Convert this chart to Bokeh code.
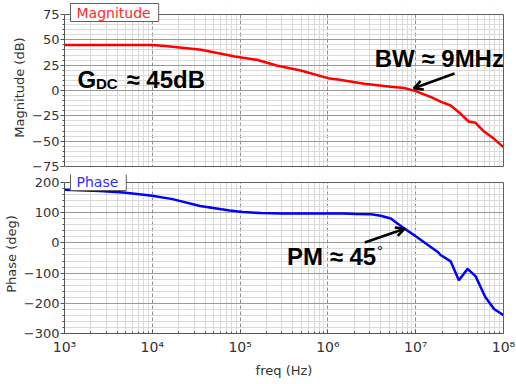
from bokeh.plotting import figure
from bokeh.layouts import column
from bokeh.models import (FixedTicker, Label, Arrow, OpenHead, Range1d, Span,
                          BoxAnnotation, LinearAxis)
from bokeh.embed import file_html
from bokeh.resources import INLINE

# Open-loop response samples
freq_mag = [1.0e3, 3.4e3, 1.0e4, 1.4e4, 3.6e4, 8.7e4, 1.55e5, 2.6e5, 4.9e5,
            1.0e6, 1.3e6, 2.6e6, 5.2e6, 7.4e6, 1.0e7, 1.5e7, 1.92e7, 2.5e7,
            3.25e7, 4.0e7, 4.8e7, 6.0e7, 7.8e7, 1.0e8]
mag_db = [45.0, 45.0, 45.0, 44.0, 40.2, 33.6, 30.3, 24.7, 19.7,
          12.2, 10.9, 6.6, 3.7, 2.4, -0.6, -6.5, -10.9, -14.8,
          -23.0, -30.6, -31.9, -40.5, -47.7, -55.9]

freq_ph = [1.0e3, 2.5e3, 4.7e3, 1.0e4, 1.7e4, 3.5e4, 7.6e4, 1.07e5, 1.74e5,
           3.0e5, 1.0e6, 1.5e6, 2.1e6, 3.1e6, 4.0e6, 5.2e6, 6.2e6, 7.4e6, 1.0e7,
           1.8e7, 1.92e7, 2.5e7, 3.1e7, 3.9e7, 4.8e7, 6.2e7, 7.8e7, 1.0e8]
phase_deg = [176, 172, 167, 156, 145, 122, 107, 102, 99,
             97, 97, 97, 96, 95, 90, 81, 64, 48, 22,
             -31, -40, -61, -124, -86, -110, -179, -219, -239]

x_ticks = [1000, 10000, 100000, 1000000, 10000000, 100000000]
x_tick_labels = ["10³", "10⁴", "10⁵", "10⁶", "10⁷", "10⁸"]
mag_ticks = [-75, -50, -25, 0, 25, 50, 75]
mag_tick_labels = ["−75", "−50", "−25", "0", "25", "50", "75"]
ph_ticks = [-300, -200, -100, 0, 100, 200]
ph_tick_labels = ["−300", "−200", "−100", "0", "100", "200"]

x_minor = [m * 10 ** e for e in range(3, 8) for m in range(2, 10)]
mag_minor = list(range(-75, 76, 5))
ph_minor = list(range(-300, 201, 20))

FONT = "DejaVu Sans"
BOLD = "Liberation Sans"
TXT = "#333333"
EDGE = "#606060"

# panel geometry (pixels): each plotting box sits inside a slightly taller
# frame so that the tab labels can overlap its top edge
TOP_H, BOT_H = 174, 210
MAG_PX = 152 / 150          # px per dB
PH_PX = 151 / 500           # px per degree
mag_view = Range1d(75 - (TOP_H - 14) / MAG_PX, 75 + 14 / MAG_PX)
ph_view = Range1d(-300, 200 + 8 / PH_PX)

x_range = Range1d(1e3, 1e8)


def make_panel(height, y_range, bottom, x_loc, y_ticks, y_labels, y_minor, y_title):
    lo, hi = y_ticks[0], y_ticks[-1]
    p = figure(width=516, height=height, x_axis_type="log", x_range=x_range,
               y_range=y_range, x_axis_location=x_loc, output_backend="svg",
               toolbar_location=None, min_border_left=63, min_border_right=13,
               min_border_top=0, min_border_bottom=bottom)
    p.outline_line_color = None

    xt = FixedTicker(ticks=x_ticks, minor_ticks=x_minor)
    yt = FixedTicker(ticks=y_ticks, minor_ticks=y_minor)

    g = p.xgrid[0]
    g.ticker = xt
    g.grid_line_color = "#8e8e8e"
    g.grid_line_dash = "4 2"
    g.minor_grid_line_color = "#dadada"

    yax = p.yaxis[0]
    yax.ticker = yt
    yax.bounds = (lo, hi)
    yax.major_label_overrides = dict(zip(y_ticks, y_labels))
    yax.axis_label = y_title
    yax.axis_label_text_font = FONT
    yax.axis_label_text_font_style = "normal"
    yax.axis_label_text_font_size = "13px"
    yax.axis_label_text_color = TXT
    yax.axis_label_standoff = 2
    yax.major_label_text_font = FONT
    yax.major_label_text_font_size = "13px"
    yax.major_label_text_color = TXT
    yax.major_label_standoff = 1
    yax.major_tick_out = 4
    yax.major_tick_in = 0
    yax.minor_tick_out = 2
    yax.minor_tick_in = 0
    yax.axis_line_color = "#555555"
    yax.major_tick_line_color = "#555555"
    yax.minor_tick_line_color = "#555555"

    gy = p.ygrid[0]
    gy.ticker = yt
    gy.grid_line_color = "#9a9a9a"
    gy.minor_grid_line_color = "#dadada"

    # right edge of the plotting box
    p.add_layout(LinearAxis(bounds=(lo, hi), ticker=FixedTicker(ticks=[]),
                            major_tick_in=0, major_tick_out=0, minor_tick_in=0,
                            minor_tick_out=0, major_label_standoff=0,
                            axis_line_color=EDGE), "right")

    # blank out the margin above the box and draw its top edge
    p.add_layout(BoxAnnotation(bottom=hi, fill_color="white", fill_alpha=1,
                               line_color=None))
    p.add_layout(Span(location=hi, dimension="width", line_color=EDGE, line_width=1))
    return p, xt


# Magnitude panel
p1, _ = make_panel(TOP_H, mag_view, 0, None,
                   mag_ticks, mag_tick_labels, mag_minor, "Magnitude (dB)")
p1.add_layout(BoxAnnotation(top=mag_ticks[0], fill_color="white", fill_alpha=1,
                            line_color=None))
p1.add_layout(Span(location=mag_ticks[0], dimension="width", line_color=EDGE,
                   line_width=1))
p1.line(freq_mag, mag_db, line_color="#ff0000", line_width=2.5)

p1.add_layout(Label(x=1e3, y=75, text="Magnitude", text_font=FONT,
                    text_font_size="14px", text_color="#ff2a2a",
                    text_baseline="middle", x_offset=6, y_offset=2,
                    background_fill_color="white", border_line_color=EDGE,
                    padding=dict(left=6, right=8, top=1, bottom=1)))

# G_DC annotation with subscript
gx = 1405
p1.add_layout(Label(x=gx, y=2.0, y_offset=9, text="G", text_font=BOLD,
                    text_font_style="bold", text_font_size="24px", text_color="black",
                    text_baseline="alphabetic"))
p1.add_layout(Label(x=gx, y=2.0, x_offset=18.5, y_offset=5, text="DC", text_font=BOLD,
                    text_font_style="bold", text_font_size="15px", text_color="black",
                    text_baseline="alphabetic"))
p1.add_layout(Label(x=gx, y=2.0, x_offset=49, y_offset=9, text="≈ 45dB", text_font=BOLD,
                    text_font_style="bold", text_font_size="24px", text_color="black",
                    text_baseline="alphabetic"))

p1.add_layout(Label(x=3.42e6, y=22.7, y_offset=9, text="BW ≈ 9MHz", text_font=BOLD,
                    text_font_style="bold", text_font_size="24px", text_color="black",
                    text_baseline="alphabetic"))
p1.add_layout(Arrow(x_start=2.77e7, y_start=16.8, x_end=9.5e6, y_end=2.2,
                    line_width=2.5, line_color="black",
                    end=OpenHead(size=9, line_width=2.5, line_color="black")))

# Phase panel
p2, xt2 = make_panel(BOT_H, ph_view, 51, "below",
                     ph_ticks, ph_tick_labels, ph_minor, "Phase (deg)")
p2.line(freq_ph, phase_deg, line_color="#0000ff", line_width=2.5)

xax = p2.xaxis[0]
xax.ticker = xt2
xax.major_label_overrides = dict(zip(x_ticks, x_tick_labels))
xax.axis_label = "freq (Hz)"
xax.axis_label_text_font = FONT
xax.axis_label_text_font_style = "normal"
xax.axis_label_text_font_size = "13px"
xax.axis_label_text_color = TXT
xax.axis_label_standoff = 5
xax.major_label_text_font = FONT
xax.major_label_text_font_size = "14px"
xax.major_label_text_color = TXT
xax.major_label_standoff = 5
xax.major_tick_in = 4
xax.major_tick_out = 0
xax.minor_tick_in = 2
xax.minor_tick_out = 0
xax.axis_line_color = "#555555"
xax.major_tick_line_color = "#555555"
xax.minor_tick_line_color = "#555555"

p2.add_layout(Label(x=1e3, y=200, text="Phase", text_font=FONT,
                    text_font_size="14px", text_color="#3030ff",
                    text_baseline="middle", x_offset=6, y_offset=1,
                    background_fill_color="white", border_line_color=EDGE,
                    padding=dict(left=6, right=8, top=1, bottom=1)))

p2.add_layout(Label(x=3.42e5, y=-74.8, y_offset=9, text="PM ≈ 45", text_font=BOLD,
                    text_font_style="bold", text_font_size="24px", text_color="black",
                    text_baseline="alphabetic"))
p2.add_layout(Label(x=3.42e5, y=-74.8, x_offset=90, y_offset=15, text="°", text_font=BOLD,
                    text_font_size="15px", text_color="black",
                    text_baseline="alphabetic"))
p2.add_layout(Arrow(x_start=2.63e6, y_start=1.3, x_end=7.5e6, y_end=47,
                    line_width=2.5, line_color="black",
                    end=OpenHead(size=9, line_width=2.5, line_color="black")))

layout = column(p1, p2)
open("out.html", "w").write(file_html(layout, INLINE))
